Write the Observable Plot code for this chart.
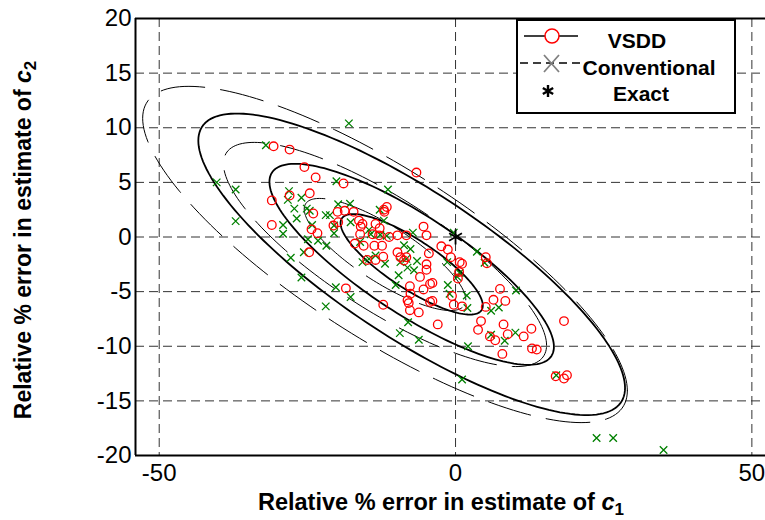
<!DOCTYPE html>
<html><head><meta charset="utf-8">
<script src="https://cdn.jsdelivr.net/npm/d3@7"></script>
<script src="https://cdn.jsdelivr.net/npm/@observablehq/plot@0.6"></script>
<style>
html,body{margin:0;padding:0;background:#fff;}
#chart{width:765px;height:520px;overflow:hidden;}
</style></head><body><div id="chart"></div>
<script>
// ---- data ----
const xTicks = [-50, 0, 50];
const yTicks = [-20, -15, -10, -5, 0, 5, 10, 15, 20];
const xDomain = [-54, 52.3];
const yDomain = [-20, 20];

const seriesNames = ["VSDD", "Conventional", "Exact"];

// VSDD estimates (red circles)
const vsddPoints = [
  [-30.7,8.3],[-28.0,8.0],[-25.5,6.4],[-23.6,5.45],[-18.9,4.9],[-31.0,3.35],[-28.0,3.8],[-24.6,4.0],[-24.0,2.15],[-19.9,2.3],
  [-18.7,2.4],[-31.0,1.1],[-20.6,1.05],[-19.8,1.35],[-24.3,0.7],[-23.3,0.35],[-24.7,-1.4],[-18.5,-4.7],
  [-17.2,2.3],[-16.3,1.5],[-15.7,1.2],[-16.0,0.95],[-12.1,2.5],[-11.6,2.75],[-12.0,2.3],[-13.5,1.2],[-12.8,0.8],[-5.4,0.95],[-6.6,5.9],
  [-16.1,0.25],[-17.0,-0.6],[-15.5,-0.8],[-14.0,0.25],[-12.9,0.15],[-11.2,0.0],[-9.8,0.15],[-8.3,0.15],[-4.9,0.15],
  [-13.7,-0.8],[-12.4,-0.8],[-14.9,-2.1],[-13.5,-2.1],[-12.2,-1.8],[-9.8,-1.4],[-9.3,-1.85],[-8.7,-2.15],[-8.3,-1.85],
  [-4.5,-1.5],[-4.9,-2.5],[-4.9,-3.0],[-2.4,-0.85],[-1.3,-1.15],[-0.8,-1.85],[0.7,-2.3],[1.1,-2.45],[0.6,-3.2],[0.4,-3.8],
  [-6.0,-3.65],[-7.7,-4.5],[-7.6,-5.2],[-8.1,-5.8],[-7.9,-6.05],[-7.7,-6.7],[-6.2,-6.9],[-5.4,-4.8],[-4.3,-4.3],[-3.9,-4.2],
  [-12.2,-6.2],[-4.3,-5.95],[-3.9,-5.85],[-3.0,-8.0],[-0.6,-5.4],[-0.3,-6.2],[1.1,-6.35],
  [5.1,-1.85],[5.3,-2.4],[7.5,-4.75],[6.4,-5.75],[8.4,-5.85],[5.1,-6.4],[4.3,-7.7],[3.8,-8.5],[5.8,-9.1],[6.7,-9.45],
  [8.1,-8.0],[8.8,-8.9],[7.9,-10.7],[11.5,-9.1],[12.8,-8.4],[12.9,-10.2],[13.7,-10.3],[18.3,-7.7],[16.9,-12.75],[18.3,-12.95],[18.8,-12.65]
];

// Conventional estimates (green crosses)
const convPoints = [
  [-18.0,10.4],[-32.0,8.4],[-40.3,5.0],[-37.1,4.35],[-37.1,1.45],[-20.1,5.1],[-28.1,4.2],[-28.3,3.4],[-26.0,3.6],[-27.2,2.6],
  [-25.1,2.6],[-24.6,2.4],[-26.8,1.7],[-29.1,1.1],[-29.1,0.3],[-24.2,1.1],[-21.9,2.0],[-21.2,2.0],[-19.8,3.0],[-17.8,3.05],
  [-20.5,1.05],[-20.5,0.35],[-17.7,1.35],[-27.8,-1.9],[-25.6,-1.4],[-26.0,-3.7],[-24.9,-0.2],[-23.2,-0.35],[-21.8,-0.8],
  [-20.2,-4.6],[-17.7,-5.5],[-21.9,-6.35],
  [-11.4,4.35],[-12.8,2.5],[-12.1,1.5],[-7.2,0.4],[-14.6,0.65],[-16.1,-0.45],[-14.3,0.25],[-12.7,0.2],[-11.6,0.1],
  [-15.7,-2.3],[-14.6,-2.0],[-13.5,-1.7],[-11.9,-2.45],[-8.7,-0.75],[-7.6,-1.1],[-9.3,-2.3],[-8.3,-2.0],[-8.1,-2.8],
  [-7.0,-3.05],[-6.5,-2.2],[-9.6,-3.5],[-10.1,-4.4],[-1.4,-2.3],[-1.3,-4.4],[-1.0,-5.2],[0.3,-3.65],[0.7,-3.3],[1.9,-5.35],
  [2.0,-6.5],[2.1,-10.0],[-8.0,-7.8],[-9.4,-8.8],[-6.2,-9.4],[-0.3,0.4],
  [3.6,-1.35],[4.9,-2.35],[10.2,-4.9],[6.0,-6.75],[7.3,-6.45],[6.0,-8.95],[8.3,-9.5],[10.1,-8.75],[1.1,-13.05],
  [17.0,-12.65],[23.8,-18.4],[26.6,-18.4],[35.1,-19.5]
];

// Exact value
const exactPoints = [[0, 0]];

// Confidence ellipse parameters (center, x/y half-extent at level 1, correlation)
const vsddEllipseCenter = [-7.4, -2.5];
const vsddEllipseExtent = [12.0, 4.6];
const vsddEllipseRho = -0.82;
const convEllipseCenter = [-11.9, -1.6];
const convEllipseExtent = [13.63, 5.13];
const convEllipseRho = -0.81;
const ellipseLevels = [1, 2, 3];

// ---- build tables ----
const toRows = pts => pts.map(([x, y]) => ({x, y}));
function ellipseRows(c, e, rho, name) {
  const phi = Math.acos(rho);
  const rows = [];
  for (const k of ellipseLevels) {
    for (let deg = 0; deg <= 360; deg += 2) {
      const t = deg * Math.PI / 180;
      rows.push({x: c[0] + k * e[0] * Math.cos(t), y: c[1] + k * e[1] * Math.cos(t - phi), g: name + k});
    }
  }
  return rows;
}
const vsddEll = ellipseRows(vsddEllipseCenter, vsddEllipseExtent, vsddEllipseRho, "v");
const convEll = ellipseRows(convEllipseCenter, convEllipseExtent, convEllipseRho, "c");

const fmt = d => String(d);

const plot = Plot.plot({
  width: 765,
  height: 520,
  marginLeft: 135,
  marginRight: 0,
  marginTop: 18,
  marginBottom: 65,
  style: {fontFamily: "'Liberation Sans', Arial, sans-serif", fontSize: "24px", background: "#fff", color: "#000"},
  x: {domain: xDomain},
  y: {domain: yDomain},
  marks: [
    Plot.ruleX(xTicks, {stroke: "#333", strokeWidth: 1, strokeDasharray: "9,5"}),
    Plot.ruleY(yTicks, {stroke: "#333", strokeWidth: 1, strokeDasharray: "9,5"}),
    Plot.line(convEll, {x: "x", y: "y", z: "g", stroke: "#000", strokeWidth: 1, strokeDasharray: "44,16", clip: true}),
    Plot.line(vsddEll, {x: "x", y: "y", z: "g", stroke: "#000", strokeWidth: 1.8, clip: true}),
    Plot.dot(toRows(convPoints), {x: "x", y: "y", symbol: "times", r: 3.5, stroke: "#008000", strokeWidth: 1.3}),
    Plot.dot(toRows(vsddPoints), {x: "x", y: "y", symbol: "circle", r: 4.3, stroke: "#ff0000", fill: "none", strokeWidth: 1.3}),
    Plot.dot(toRows(exactPoints), {x: "x", y: "y", symbol: "asterisk", r: 7, stroke: "#000", strokeWidth: 1.8}),
    Plot.ruleX([xDomain[0]], {stroke: "#000", strokeWidth: 2}),
    Plot.ruleY([yDomain[0], yDomain[1]], {stroke: "#000", strokeWidth: 2}),
    Plot.axisX(xTicks, {tickSize: 0, tickPadding: 8, tickFormat: fmt, label: null, fontSize: 24}),
    Plot.axisY(yTicks, {tickSize: 0, tickPadding: 4, tickFormat: fmt, label: null, fontSize: 24})
  ]
});

document.getElementById("chart").appendChild(plot);

// ---- axis titles (with italic c and subscript) ----
const svg = d3.select(plot);
const xl = svg.append("text")
  .attr("x", 441).attr("y", 510).attr("text-anchor", "middle")
  .attr("font-weight", "bold").attr("font-size", 23.5).attr("fill", "#000");
xl.append("tspan").text("Relative % error in estimate of ");
xl.append("tspan").attr("font-style", "italic").text("c");
xl.append("tspan").attr("font-size", 17).attr("dy", 5).text("1");

const yl = svg.append("text")
  .attr("transform", "translate(31,240) rotate(-90)").attr("text-anchor", "middle")
  .attr("font-weight", "bold").attr("font-size", 23).attr("fill", "#000");
yl.append("tspan").text("Relative % error in estimate of ");
yl.append("tspan").attr("font-style", "italic").text("c");
yl.append("tspan").attr("font-size", 17).attr("dy", 5).text("2");

// ---- legend ----
const lg = svg.append("g").attr("font-weight", "bold").attr("font-size", 21);
lg.append("rect").attr("x", 517).attr("y", 20).attr("width", 218).attr("height", 93)
  .attr("fill", "#fff").attr("stroke", "#000").attr("stroke-width", 2);
// VSDD
lg.append("line").attr("x1", 524).attr("x2", 578).attr("y1", 36).attr("y2", 36).attr("stroke", "#000").attr("stroke-width", 1.3);
lg.append("circle").attr("cx", 552).attr("cy", 36).attr("r", 7).attr("fill", "#fff").attr("stroke", "#ff0000").attr("stroke-width", 1.5);
lg.append("text").attr("x", 637).attr("y", 48).attr("text-anchor", "middle").text(seriesNames[0]);
// Conventional
lg.append("line").attr("x1", 520).attr("x2", 582).attr("y1", 63).attr("y2", 63).attr("stroke", "#000").attr("stroke-width", 1.3).attr("stroke-dasharray", "8,5");
lg.append("path").attr("d", "M544,55L559,72M544,72L559,55").attr("stroke", "#808080").attr("stroke-width", 1.8).attr("fill", "none");
lg.append("text").attr("x", 649).attr("y", 75).attr("text-anchor", "middle").text(seriesNames[1]);
// Exact
lg.append("path").attr("d", d3.symbol(d3.symbolAsterisk, 100)()).attr("transform", "translate(548,91)")
  .attr("stroke", "#000").attr("stroke-width", 2.4).attr("fill", "none");
lg.append("text").attr("x", 641).attr("y", 101).attr("text-anchor", "middle").text(seriesNames[2]);
</script>
</body></html>
